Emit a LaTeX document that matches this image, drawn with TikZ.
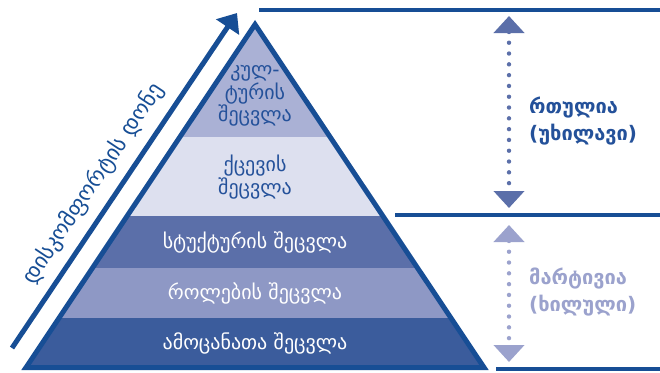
\documentclass[tikz,border=0pt]{standalone}
\usepackage{fontspec}
\setmainfont{DejaVu Sans}
\usetikzlibrary{arrows.meta}
\definecolor{outl}{HTML}{174E95}
\definecolor{lay1}{HTML}{AAB1D5}
\definecolor{lay2}{HTML}{DDE0EF}
\definecolor{lay3}{HTML}{5B6FA9}
\definecolor{lay4}{HTML}{8E98C5}
\definecolor{lay5}{HTML}{3B5C9C}
\definecolor{darktxt}{HTML}{24519A}
\definecolor{lighttxt}{HTML}{9BA2CD}
\tikzset{
  laytext/.style={font=\fontsize{20}{22.5}\selectfont, align=center, inner sep=0pt},
  sidetext/.style={font=\bfseries\fontsize{20}{27}\selectfont, align=left, anchor=west, inner sep=0pt},
  rule/.style={outl, line width=4pt},
  dotarrow/.style={line width=4.4pt, line cap=round, dash pattern=on 0pt off 10.8pt,
     {Triangle[length=17pt,width=30pt]}-{Triangle[length=17pt,width=30pt]}},
}
\begin{document}
\begin{tikzpicture}[x=1pt,y=-1pt]
\useasboundingbox (0,0) rectangle (660,372);
\fill[white] (0,0) rectangle (660,372);
\coordinate (A) at (255,24.5);
\coordinate (BL) at (26,367.5);
\coordinate (BR) at (484,367.5);
\begin{scope}
  \clip (A) -- (BL) -- (BR) -- cycle;
  \fill[lay1] (0,0) rectangle (660,137);
  \fill[lay2] (0,137) rectangle (660,216);
  \fill[lay3] (0,216) rectangle (660,268);
  \fill[lay4] (0,268) rectangle (660,318);
  \fill[lay5] (0,318) rectangle (660,372);
\end{scope}
\draw[outl, line width=5pt, line join=miter] (A) -- (BL) -- (BR) -- cycle;

\node[laytext, text=darktxt] (t1) at (255,96) {კულ-\\ტურის\\შეცვლა};
\node[laytext, text=darktxt] (t2) at (255,177) {ქცევის\\შეცვლა};
\node[laytext, text=white] (t3) at (255,242) {სტუქტურის შეცვლა};
\node[laytext, text=white] (t4) at (255,293) {როლების შეცვლა};
\node[laytext, text=white] (t5) at (255,343) {ამოცანათა შეცვლა};

% diagonal arrow
\coordinate (d0) at (12,348);
\coordinate (d1) at (237,13);
\draw[outl, line width=5pt, -{Triangle[length=17pt,width=27pt]}] (d0) -- (d1);
\node[font=\fontsize{22}{24}\selectfont, text=outl, rotate=56.31, inner sep=0pt] (dl) at (93,184) {დისკომფორტის დონე};

% rules
\coordinate (r1a) at (259,10); \coordinate (r1b) at (660,10);
\coordinate (r2a) at (395,215); \coordinate (r2b) at (660,215);
\coordinate (r3a) at (496,369); \coordinate (r3b) at (660,369);
\draw[rule] (r1a) -- (r1b);
\draw[rule] (r2a) -- (r2b);
\draw[rule] (r3a) -- (r3b);

% dotted arrows
\coordinate (u0) at (509,16); \coordinate (u1) at (509,208);
\coordinate (v0) at (509,225); \coordinate (v1) at (509,362);
\draw[dotarrow, lay3] (u0) -- (u1);
\draw[dotarrow, lighttxt] (v0) -- (v1);

\node[sidetext, text=darktxt] (s1) at (529,121) {რთულია\\(უხილავი)};
\node[sidetext, text=lighttxt] (s2) at (529,292) {მარტივია\\(ხილული)};
\end{tikzpicture}
\end{document}
